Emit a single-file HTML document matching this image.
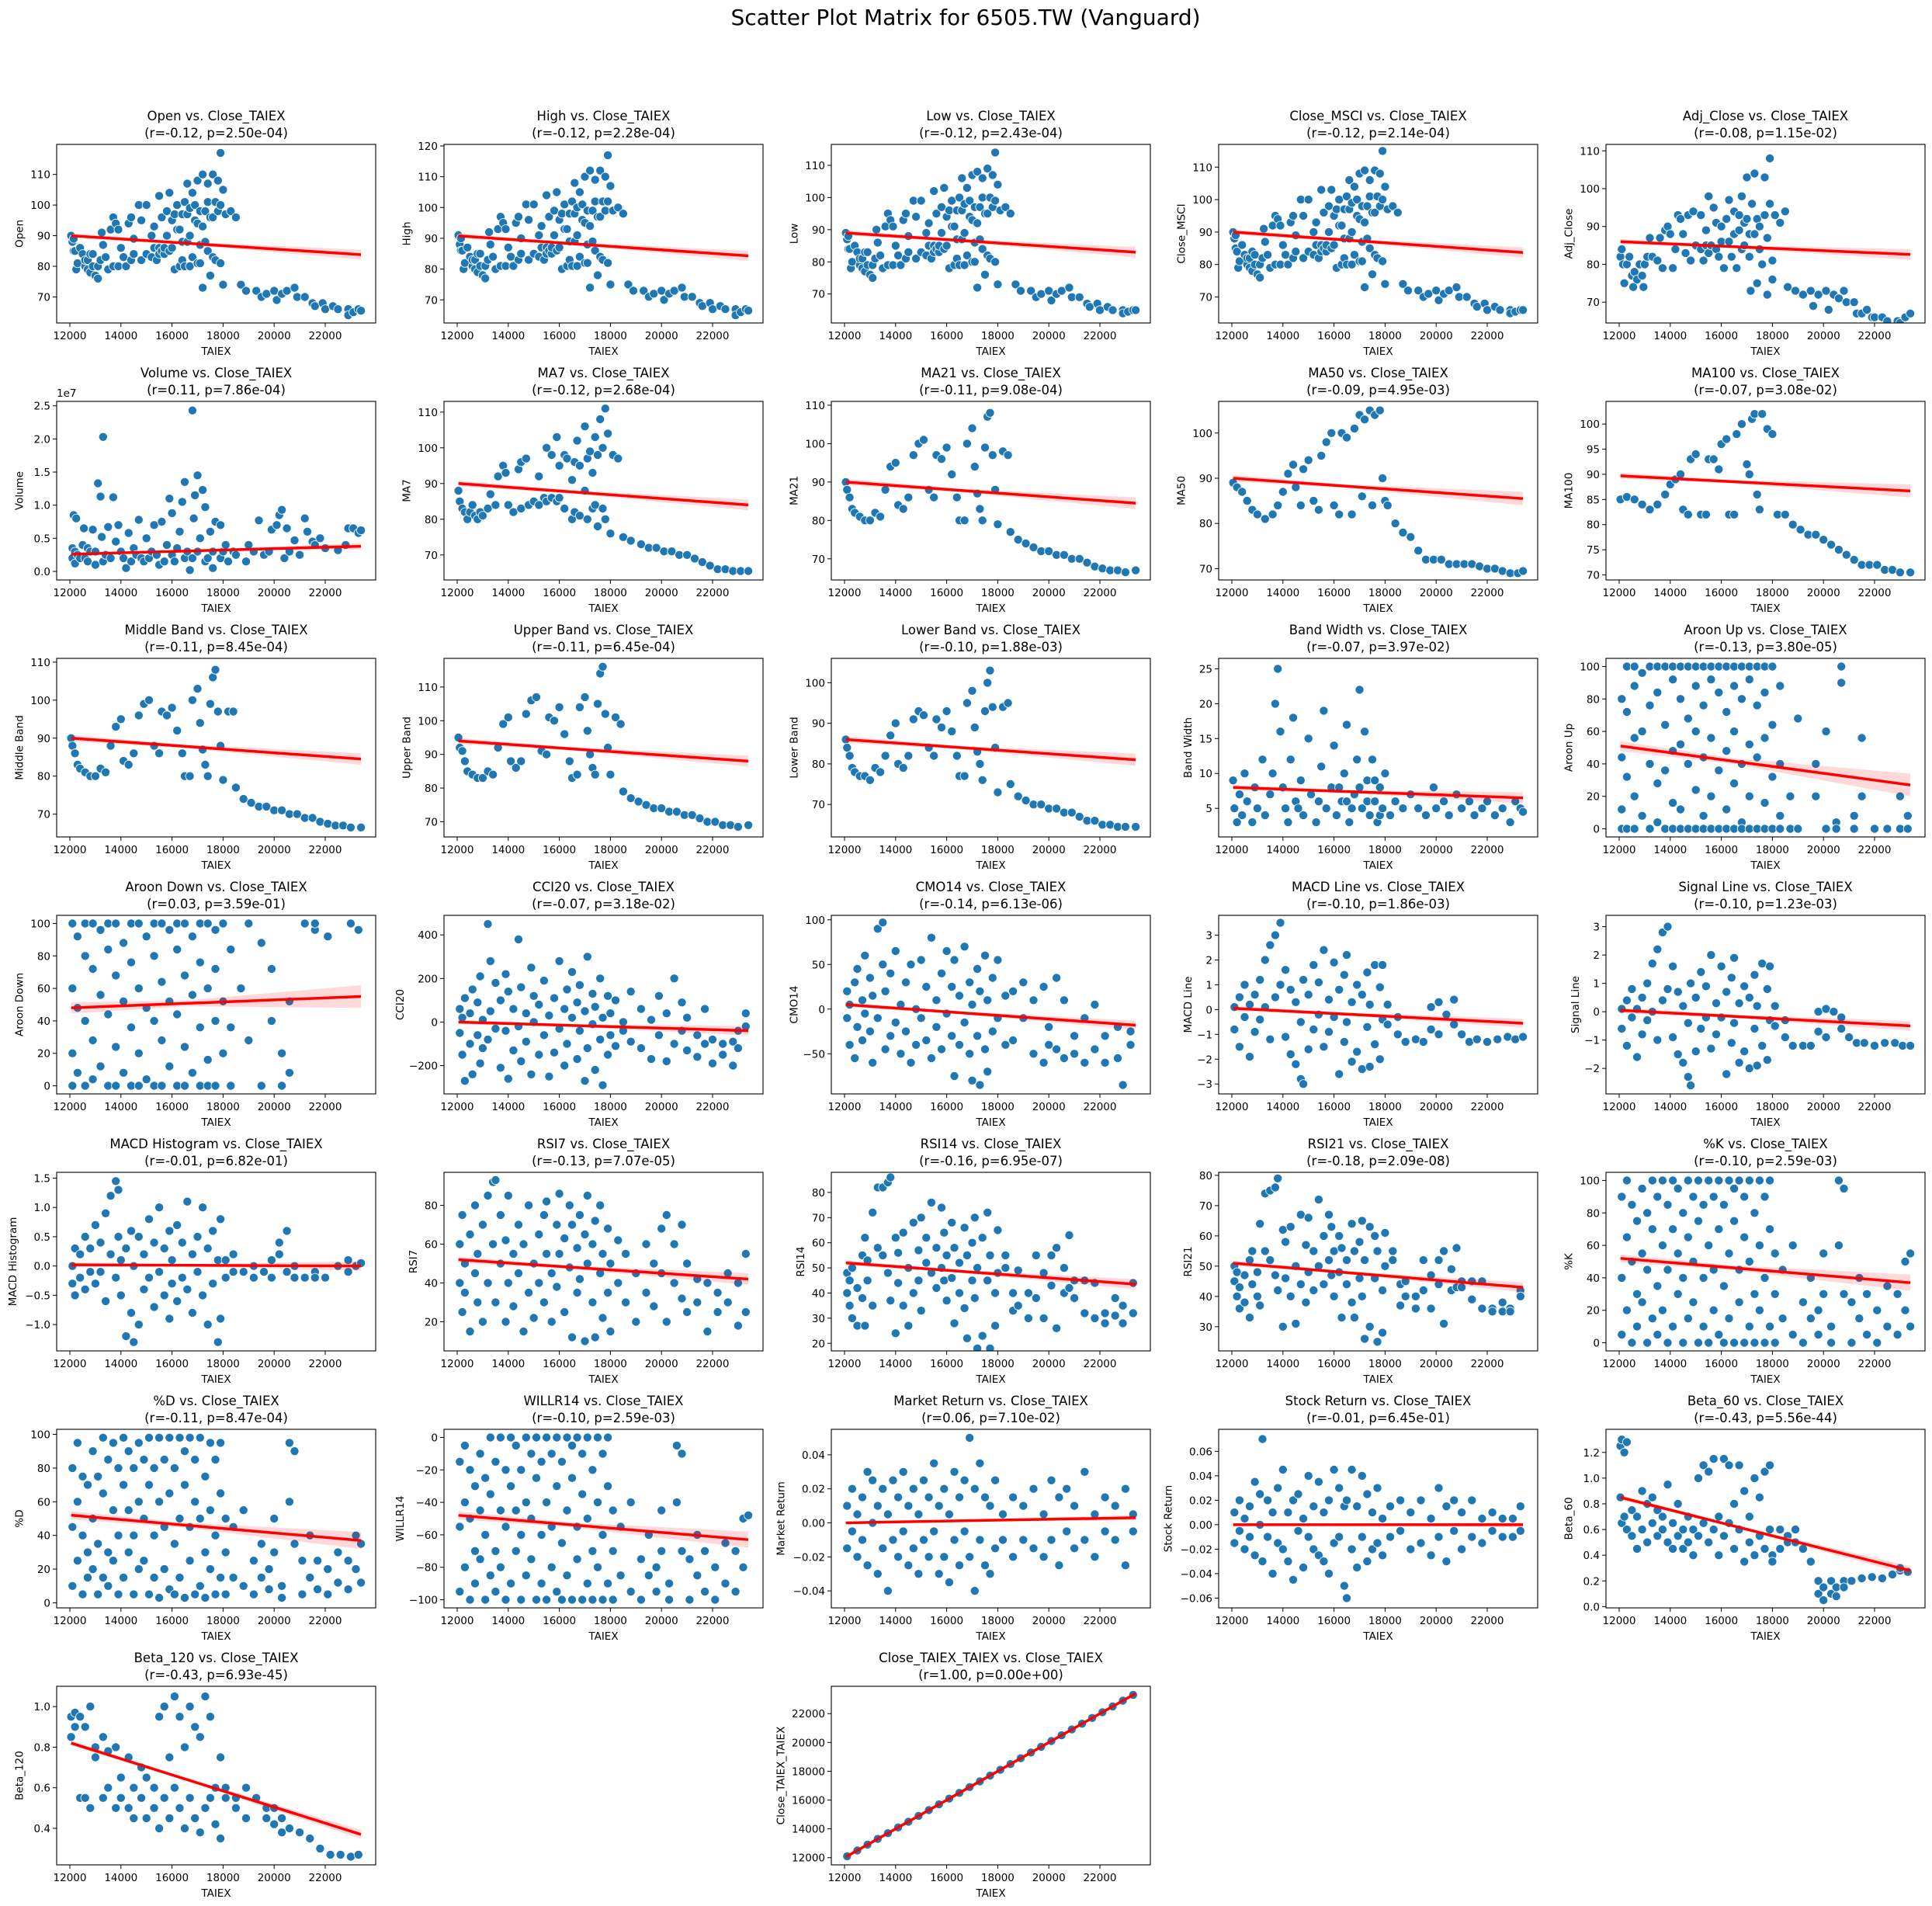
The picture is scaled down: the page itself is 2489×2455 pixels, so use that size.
<!DOCTYPE html>
<html><head><meta charset="utf-8">
<style>
html,body{margin:0;padding:0;background:#fff;}
svg{display:block;font-family:"DejaVu Sans","Liberation Sans",sans-serif;}
</style></head>
<body>
<svg id="fig" width="2489" height="2455" viewBox="0 0 2489 2455" xmlns="http://www.w3.org/2000/svg">
<rect width="2489" height="2455" fill="#fff"/>
<text x="1244" y="32" font-size="28" text-anchor="middle">Scatter Plot Matrix for 6505.TW (Vanguard)</text>
</svg>
<script>
// Data rows: [taiex_in_thousands, y1, y2, ...]
const d_open=[[12.05,90],[12.1,88],[12.15,85,89],[12.2,85],[12.25,79],[12.3,81],[12.4,86],[12.5,84],[12.6,80,82],[12.7,82,79],[12.8,78,84],[12.9,84,80],[13.0,77],[13.1,76,80],[13.2,82],[13.25,91],[13.3,87],[13.4,83],[13.5,79],[13.6,92],[13.7,96,80],[13.8,94],[13.9,92,80],[14.0,86],[14.1,83],[14.2,80],[14.3,94],[14.4,96,82],[14.5,89,84],[14.7,100],[14.8,95,82],[15.0,100,84],[15.2,90,83],[15.3,86,93],[15.4,82],[15.5,103,86,84],[15.6,96,85],[15.7,84,86],[15.8,90,98],[15.9,104,85],[16.0,95,86],[16.1,79,97],[16.2,100,92],[16.3,92,80],[16.4,88,97,82],[16.5,80,101],[16.6,107,97,88],[16.7,90,80,99],[16.8,83,104],[16.9,100,95],[17.0,108,94,81],[17.1,87,81,98],[17.2,110,73,93],[17.3,98,88],[17.4,107,85,101],[17.5,77,96],[17.6,110,96,83],[17.7,82,101],[17.8,108,98],[17.9,117,100,81],[18.0,74,105],[18.1,97],[18.3,98],[18.5,96],[18.7,74],[18.9,72],[19.3,72],[19.5,70],[19.7,71],[20.0,72],[20.1,69],[20.3,71],[20.5,72],[20.8,73],[20.9,70],[21.2,70],[21.5,68],[21.6,67],[21.9,68],[22.0,66],[22.3,67],[22.5,66],[22.9,66,64],[23.1,65],[23.3,66],[23.4,65.5]];
const d_high=[[12.05,91],[12.1,88],[12.15,86,90],[12.2,86],[12.25,80],[12.3,82],[12.4,87],[12.5,84],[12.6,81,83],[12.7,83,80],[12.8,79,85],[12.9,85,81],[13.0,78],[13.1,77,81],[13.2,83],[13.25,92],[13.3,88],[13.4,84],[13.5,80],[13.6,93],[13.7,97,81],[13.8,95],[13.9,93,81],[14.0,87],[14.1,84],[14.2,81],[14.3,95],[14.4,97,83],[14.5,90,85],[14.7,101],[14.8,96,83],[15.0,101,85],[15.2,91,84],[15.3,87,94],[15.4,83],[15.5,104,87,85],[15.6,97,86],[15.7,85,87],[15.8,91,99],[15.9,105,86],[16.0,96,87],[16.1,80,98],[16.2,101,93],[16.3,93,81],[16.4,89,98,83],[16.5,81,102],[16.6,108,98,89],[16.7,91,81,100],[16.8,84,105],[16.9,101,96],[17.0,110,95,82],[17.1,88,82,99],[17.2,112,74,94],[17.3,99,89],[17.4,109,86,102],[17.5,78,97],[17.6,112,97,84],[17.7,83,102],[17.8,110,99],[17.9,117,102,82],[18.0,75,107],[18.1,99],[18.3,100],[18.5,98],[18.7,75],[18.9,73],[19.3,73],[19.5,71],[19.7,72],[20.0,73],[20.1,70],[20.3,72],[20.5,73],[20.8,74],[20.9,71],[21.2,71],[21.5,69],[21.6,68],[21.9,69],[22.0,67],[22.3,68],[22.5,67],[22.9,67,65],[23.1,66],[23.3,67],[23.4,66.5]];
const d_low=[[12.05,89],[12.1,87],[12.15,84,88],[12.2,84],[12.25,78],[12.3,80],[12.4,85],[12.5,83],[12.6,79,81],[12.7,81,78],[12.8,77,83],[12.9,83,79],[13.0,76],[13.1,75,79],[13.2,81],[13.25,90],[13.3,86],[13.4,82],[13.5,78],[13.6,91],[13.7,95,79],[13.8,93],[13.9,91,79],[14.0,85],[14.1,82],[14.2,79],[14.3,93],[14.4,95,81],[14.5,88,83],[14.7,99],[14.8,94,81],[15.0,99,83],[15.2,89,82],[15.3,85,92],[15.4,81],[15.5,102,85,83],[15.6,95,84],[15.7,83,85],[15.8,89,97],[15.9,103,84],[16.0,94,85],[16.1,78,96],[16.2,99,91],[16.3,91,79],[16.4,87,96,81],[16.5,79,100],[16.6,106,96,87],[16.7,89,79,98],[16.8,82,103],[16.9,99,94],[17.0,107,93,80],[17.1,86,80,97],[17.2,108,72,92],[17.3,97,87],[17.4,106,84,100],[17.5,76,95],[17.6,109,95,82],[17.7,81,100],[17.8,107,97],[17.9,114,99,80],[18.0,73,104],[18.1,96],[18.3,97],[18.5,95],[18.7,73],[18.9,71],[19.3,71],[19.5,69],[19.7,70],[20.0,71],[20.1,68],[20.3,70],[20.5,71],[20.8,72],[20.9,69],[21.2,69],[21.5,67],[21.6,66],[21.9,67],[22.0,65],[22.3,66],[22.5,65],[22.9,65,64],[23.1,64.5],[23.3,65],[23.4,65]];
const d_msci=[[12.05,90],[12.1,88],[12.15,85,89],[12.2,84],[12.25,79],[12.3,81],[12.4,86],[12.5,83],[12.6,80,82],[12.7,82,79],[12.8,78,84],[12.9,83,80],[13.0,77],[13.1,76,80],[13.2,82],[13.25,91],[13.3,87],[13.4,83],[13.5,79],[13.6,92],[13.7,95,80],[13.8,94],[13.9,92,80],[14.0,86],[14.1,83],[14.2,80],[14.3,93],[14.4,95,82],[14.5,89,84],[14.7,100],[14.8,95,82],[15.0,100,84],[15.2,90,83],[15.3,86,93],[15.4,82],[15.5,103,86,84],[15.6,96,85],[15.7,84,86],[15.8,90,98],[15.9,103,85],[16.0,95,86],[16.1,79,97],[16.2,100,92],[16.3,92,80],[16.4,88,97,82],[16.5,80,101],[16.6,106,97,88],[16.7,90,80,99],[16.8,83,104],[16.9,100,95],[17.0,108,94,81],[17.1,87,81,98],[17.2,109,73,93],[17.3,98,88],[17.4,106,85,101],[17.5,77,96],[17.6,109,96,83],[17.7,82,101],[17.8,108,98],[17.9,115,100,81],[18.0,74,104],[18.1,97],[18.3,98],[18.5,96],[18.7,74],[18.9,72],[19.3,72],[19.5,70],[19.7,71],[20.0,72],[20.1,69],[20.3,71],[20.5,72],[20.8,73],[20.9,70],[21.2,70],[21.5,68],[21.6,67],[21.9,68],[22.0,66],[22.3,67],[22.5,66],[22.9,66,65],[23.1,65.5],[23.3,66],[23.4,66]];
const d_adj=[[12.05,82],[12.1,84],[12.15,80],[12.2,75],[12.3,80],[12.4,82],[12.5,77],[12.55,74],[12.6,78],[12.7,76],[12.8,80],[12.9,77],[12.95,74],[13.0,80],[13.1,82],[13.2,87],[13.3,82],[13.5,81],[13.6,87],[13.7,79],[13.8,89],[13.9,90],[14.0,88],[14.1,79],[14.2,84],[14.3,93],[14.4,92],[14.5,88],[14.6,83],[14.7,93],[14.8,81],[14.9,94],[15.0,85],[15.2,93,84],[15.3,81],[15.4,89,85],[15.5,98,83],[15.6,85],[15.7,95],[15.8,91,84],[15.9,82],[16.0,86,90],[16.1,79],[16.2,92],[16.3,97,86],[16.4,82],[16.5,94,88],[16.6,79],[16.7,89,93],[16.8,98,84],[16.9,85,91],[17.0,103,92],[17.1,82,88],[17.15,73],[17.2,96],[17.3,104,88],[17.4,75,92],[17.5,90,84],[17.6,80],[17.7,103,93],[17.8,72,87],[17.9,108,96],[18.0,76,81],[18.1,93],[18.3,91],[18.5,94],[18.6,74],[18.9,73],[19.2,72],[19.5,73],[19.6,69],[19.8,72],[20.1,73],[20.2,68],[20.4,72],[20.6,71],[20.8,73],[20.9,70],[21.2,70],[21.3,67],[21.5,67],[21.7,68],[21.9,66],[22.0,66],[22.3,66],[22.5,65],[22.9,65],[23.0,64.5],[23.2,66],[23.4,67]];
const d_vol=[[12.1,0.35,0.2],[12.15,0.85],[12.2,0.12,0.3],[12.25,0.8],[12.3,0.25],[12.4,0.2],[12.5,0.4],[12.55,0.65],[12.6,0.2],[12.7,0.15,0.35],[12.8,0.3],[12.9,0.63],[13.0,0.1,0.3],[13.1,1.33],[13.2,1.13],[13.25,0.52],[13.3,2.03,0.15],[13.4,0.25],[13.5,0.67],[13.6,0.2],[13.7,1.12],[13.8,0.45],[13.9,0.7],[14.0,0.3],[14.1,0.2],[14.2,0.05],[14.3,0.58],[14.4,0.15],[14.5,0.35],[14.6,0.25],[14.7,0.78],[14.8,0.2],[14.9,0.15],[15.0,0.5],[15.1,0.2],[15.2,0.3],[15.3,0.7],[15.4,0.25],[15.5,0.1],[15.6,0.75],[15.7,0.15],[15.8,0.4],[15.9,1.1],[16.0,0.88,0.25],[16.1,0.15],[16.2,0.35],[16.3,0.6],[16.4,1.05],[16.5,1.35,0.2],[16.6,0.3],[16.7,0.02],[16.8,2.43,0.2],[16.85,0.8],[16.9,1.15],[17.0,1.45,0.3],[17.1,0.5],[17.2,1.23],[17.3,0.97,0.15],[17.4,0.2],[17.5,0.6],[17.6,0.05,0.3],[17.7,0.75],[17.9,0.7,0.2],[18.0,0.3],[18.1,0.4],[18.2,0.15],[18.4,0.3],[18.5,0.25],[18.9,0.15],[19.0,0.4],[19.2,0.3],[19.4,0.77],[19.6,0.25],[19.8,0.3],[19.9,0.63],[20.1,0.7],[20.2,0.85],[20.3,0.93],[20.4,0.2],[20.5,0.65],[20.6,0.3],[20.8,0.47],[21.0,0.25],[21.2,0.8],[21.3,0.6],[21.5,0.45],[21.6,0.4],[21.8,0.5],[22.0,0.35],[22.5,0.32],[22.8,0.4],[22.9,0.65],[23.1,0.65],[23.3,0.58],[23.4,0.62]];
const d_ma7=[[12.05,88],[12.1,85],[12.2,83],[12.3,82],[12.4,80],[12.5,82],[12.6,84],[12.7,81],[12.8,80],[12.9,82],[13.0,81],[13.2,83],[13.3,87],[13.5,84],[13.6,92],[13.8,95],[13.9,93],[14.0,84],[14.2,82],[14.4,94],[14.5,96,83],[14.7,97],[14.8,84],[15.0,85],[15.2,92,84],[15.4,86],[15.5,100,85],[15.7,98,86],[15.9,103,85],[16.0,95,86],[16.2,83,98],[16.3,97],[16.5,91,80],[16.6,82,96],[16.7,102],[16.8,95,81],[17.0,106,88],[17.1,80,97],[17.2,99],[17.3,93,83],[17.4,84,103],[17.5,78,98],[17.6,108],[17.7,100,83],[17.8,111,80],[17.9,104],[18.0,76],[18.1,98],[18.3,97],[18.5,75],[18.8,74],[19.2,73],[19.5,72],[19.8,72],[20.1,71],[20.4,71],[20.7,70],[21.0,70],[21.3,69],[21.6,68],[21.9,67],[22.2,66],[22.5,66],[22.8,65.5],[23.1,65.5],[23.4,65.5]];
const d_ma21=[[12.05,90],[12.1,88],[12.2,86],[12.3,83],[12.4,82],[12.6,81],[12.8,80],[13.0,80],[13.2,82],[13.4,81],[13.6,88],[13.8,94],[14.0,95],[14.1,84],[14.3,83],[14.5,86],[14.7,97],[14.9,100],[15.1,101],[15.3,88],[15.5,86],[15.6,97],[15.8,96],[16.0,99],[16.2,92],[16.4,86],[16.5,80],[16.7,80],[16.8,100],[17.0,104],[17.1,94],[17.2,87],[17.3,83],[17.4,80],[17.5,99],[17.6,107],[17.7,108],[17.8,97],[17.9,88],[18.0,79],[18.2,98],[18.4,97],[18.5,77],[18.8,75],[19.1,74],[19.4,73],[19.7,72],[20.0,72],[20.3,71],[20.6,71],[20.9,70],[21.2,70],[21.5,69],[21.8,68],[22.1,67.5],[22.4,67],[22.7,67],[23.0,66.5],[23.4,67]];
const d_ma50=[[12.05,89],[12.2,88],[12.4,87],[12.6,85],[12.8,83],[13.0,82],[13.3,81],[13.6,82],[13.8,84],[14.0,87],[14.2,91],[14.4,93],[14.5,88],[14.7,84],[14.8,92],[15.0,94],[15.2,85],[15.4,83],[15.5,95],[15.7,98],[15.9,100],[16.0,84],[16.2,82],[16.3,100],[16.5,99],[16.7,82],[16.8,101],[17.0,104],[17.1,86],[17.2,103],[17.4,105],[17.5,84],[17.6,104],[17.8,105],[17.9,90],[18.0,85],[18.1,84],[18.4,80],[18.7,78],[19.0,77],[19.3,74],[19.6,72],[19.9,72],[20.2,72],[20.5,71],[20.8,71],[21.1,71],[21.4,71],[21.7,70.5],[22.0,70],[22.3,70],[22.6,69.5],[22.9,69],[23.2,69],[23.4,69.5]];
const d_ma100=[[12.05,85],[12.3,85.5],[12.6,85],[12.9,84],[13.2,83],[13.5,84],[13.8,86],[14.0,88],[14.2,89],[14.4,90],[14.5,83],[14.7,82],[14.8,93],[15.0,94],[15.2,82],[15.4,82],[15.5,93],[15.7,93],[15.9,91],[16.0,96],[16.2,97],[16.3,82],[16.5,82],[16.6,98],[16.8,100],[17.0,92],[17.1,90],[17.2,101],[17.3,102],[17.4,86],[17.5,83],[17.6,102],[17.8,99],[18.0,98],[18.2,82],[18.5,82],[18.8,80],[19.1,79],[19.4,78],[19.7,78],[20.0,77],[20.3,76],[20.6,75],[20.9,74],[21.2,73],[21.5,72],[21.8,72],[22.1,72],[22.4,71],[22.7,71],[23.0,70.5],[23.4,70.5]];
const d_mid=[[12.05,90],[12.1,88],[12.2,86],[12.3,83],[12.4,82],[12.6,81],[12.8,80],[13.0,80],[13.2,82],[13.4,81],[13.6,88],[13.8,93],[14.0,95],[14.1,84],[14.3,83],[14.5,86],[14.7,96],[14.9,99],[15.1,100],[15.3,88],[15.5,86],[15.6,97],[15.8,96],[16.0,98],[16.2,92],[16.4,86],[16.5,80],[16.7,80],[16.8,100],[17.0,103],[17.1,94],[17.2,87],[17.3,83],[17.4,80],[17.5,99],[17.6,106],[17.7,108],[17.8,97],[17.9,88],[18.0,79],[18.2,97],[18.4,97],[18.5,77],[18.8,74],[19.1,73],[19.4,72],[19.7,72],[20.0,71],[20.3,71],[20.6,70],[20.9,70],[21.2,69],[21.5,69],[21.8,68],[22.1,67.5],[22.4,67],[22.7,67],[23.0,66.5],[23.4,66.5]];
const d_up=[[12.05,95],[12.1,92],[12.2,91],[12.3,88],[12.4,85],[12.6,84],[12.8,83],[13.0,83],[13.2,85],[13.4,84],[13.6,92],[13.8,99],[14.0,101],[14.1,88],[14.3,86],[14.5,88],[14.7,102],[14.9,106],[15.1,107],[15.3,91],[15.5,90],[15.6,101],[15.8,100],[16.0,104],[16.2,96],[16.4,88],[16.5,83],[16.7,84],[16.8,104],[17.0,107],[17.1,97],[17.2,90],[17.3,86],[17.4,84],[17.5,105],[17.6,114],[17.7,116],[17.8,102],[17.9,92],[18.0,84],[18.2,101],[18.4,99],[18.5,79],[18.8,77],[19.1,76],[19.4,75],[19.7,74],[20.0,74],[20.3,73],[20.6,73],[20.9,72],[21.2,72],[21.5,71],[21.8,70],[22.1,70],[22.4,69],[22.7,69],[23.0,68.5],[23.4,69]];
const d_lowb=[[12.05,86],[12.1,84],[12.2,82],[12.3,79],[12.4,78],[12.6,77],[12.8,77],[13.0,76],[13.2,79],[13.4,78],[13.6,82],[13.8,87],[14.0,90],[14.1,80],[14.3,79],[14.5,82],[14.7,91],[14.9,93],[15.1,92],[15.3,84],[15.5,82],[15.6,91],[15.8,89],[16.0,93],[16.2,88],[16.4,82],[16.5,77],[16.7,77],[16.8,95],[17.0,98],[17.1,89],[17.2,83],[17.3,80],[17.4,76],[17.5,93],[17.6,100],[17.7,103],[17.8,94],[17.9,84],[18.0,73],[18.2,94],[18.4,95],[18.5,75],[18.8,72],[19.1,71],[19.4,70],[19.7,70],[20.0,69],[20.3,69],[20.6,68],[20.9,68],[21.2,67],[21.5,66],[21.8,66],[22.1,65],[22.4,65],[22.7,64.5],[23.0,64.5],[23.4,64.5]];
const d_bw=[[12.05,9],[12.1,5],[12.2,3],[12.3,7],[12.4,4],[12.5,10],[12.6,6],[12.8,3],[12.9,8],[13.0,5],[13.2,12],[13.3,4],[13.5,7],[13.6,10],[13.7,20],[13.8,25],[13.9,16],[14.0,8],[14.1,5],[14.2,3],[14.3,12],[14.4,18],[14.5,6],[14.6,5],[14.7,9],[14.8,4],[15.0,15],[15.1,7],[15.3,3],[15.4,6],[15.5,11],[15.6,19],[15.7,5],[15.9,8],[16.0,14],[16.1,4],[16.2,8],[16.3,6],[16.4,10],[16.5,17,6],[16.6,3],[16.7,5],[16.8,7],[16.9,12],[17.0,22,8],[17.1,5],[17.2,16],[17.3,9,6],[17.4,4],[17.5,12],[17.6,6,9],[17.7,3],[17.8,8,4],[17.9,5],[18.0,10],[18.2,4],[18.4,6],[18.7,5],[19.0,7],[19.3,5],[19.6,4],[19.9,8],[20.0,5],[20.3,6],[20.5,4],[20.8,7],[21.0,5],[21.3,6],[21.5,4],[21.8,5],[22.0,6],[22.3,4],[22.6,5],[22.9,3],[23.1,6],[23.3,5],[23.4,4.5]];
const d_aup=[[12.1,0,12,44,80],[12.3,100,72,32,0],[12.6,100,88,56,20,0],[12.9,96,60,8],[13.2,100,76,40,0],[13.5,100,84,28,4],[13.8,100,64,36,0],[14.1,100,92,48,16,0],[14.4,100,80,52,12,0],[14.7,100,68,40,0],[15.0,100,88,60,24,0],[15.3,100,76,44,8,0],[15.6,100,92,56,20,0],[15.9,100,84,36,0],[16.2,100,72,48,12,0],[16.5,100,88,60,28,0],[16.8,100,80,40,4,0],[17.1,100,92,52,20,0],[17.4,100,76,44,0],[17.7,100,84,56,16,0],[18.0,100,64,32,0],[18.3,88,40,8,0],[18.7,20,0],[19.0,68,0],[19.7,40,20],[20.1,60,0],[20.5,4,0],[20.7,90,100],[21.2,0,8],[21.5,56,20],[22.0,0],[22.5,0],[23.0,20,0],[23.3,8,0]];
const d_adn=[[12.1,100,60,20,0],[12.3,92,48,8],[12.6,100,80,40,0],[12.9,100,72,28,4],[13.2,96,56,12],[13.5,100,84,44,0],[13.8,100,68,24,0],[14.1,88,52,8],[14.4,100,76,36,0],[14.7,100,60,20,0],[15.0,92,48,4],[15.3,100,80,40,0],[15.6,100,64,28,0],[15.9,96,52,12],[16.2,100,84,44,0],[16.5,100,68,24,0],[16.8,92,56,8],[17.1,100,76,36,0],[17.4,100,60,16,0],[17.7,96,72,40,0],[18.0,100,52,20],[18.3,84,36,0],[18.7,60],[19.0,100,28],[19.5,88,0],[19.9,72,40],[20.3,20,0],[20.6,52,8],[21.2,100],[21.6,96,100],[22.1,92],[23.0,100],[23.3,96]];
const d_cci=[[12.1,-50,60],[12.2,-150,20],[12.3,-270,110],[12.5,-100,40],[12.6,-240,150],[12.8,-60,90],[12.9,-190,210],[13.0,10,-120],[13.2,450,-80],[13.3,280,50],[13.5,-30,180],[13.7,100,-210],[13.9,220,-40],[14.0,-260,140],[14.2,60,-130],[14.4,380,-20],[14.5,160,-180],[14.7,40,-90],[14.9,250,-240],[15.0,0,120],[15.2,-150,80],[15.4,190,-60],[15.6,-250,30],[15.8,110,-140],[16.0,280,-30],[16.2,-200,60],[16.3,150,-100],[16.5,20,230],[16.7,-170,90],[16.8,-40,170],[17.0,-270,50],[17.1,300,-120],[17.3,-10,130],[17.4,-220,70],[17.6,200,-80],[17.7,-290,20],[17.9,120,-150],[18.0,-60,40],[18.2,-110,100],[18.5,0,-40],[18.8,140,-90],[19.2,-120,60],[19.6,10,-170],[19.9,120,-60],[20.2,-180,40],[20.5,200,-100],[20.8,-40,90],[21.0,-130,20],[21.4,-60,-160],[21.7,-100,60],[22.0,-190,-80],[22.4,-100,-150],[22.8,-90,-200],[23.0,-120,-40],[23.3,-20,40]];
const d_cmo=[[12.1,-10,20],[12.2,-40,5],[12.4,-55,30],[12.5,45,-20],[12.7,-35,10],[12.8,60,-5],[13.0,-25,35],[13.1,-60,15],[13.3,90,-10],[13.5,97,50],[13.6,-45,20],[13.8,40,-30],[14.0,-15,65],[14.2,-50,5],[14.4,30,-25],[14.6,-60,50],[14.8,0,-40],[15.0,55,-10],[15.2,-35,25],[15.4,80,-55],[15.6,10,-20],[15.8,-45,40],[16.0,65,-5],[16.2,-30,25],[16.3,-75,55],[16.5,15,-40],[16.7,70,-15],[16.9,-50,30],[17.0,-80,5],[17.2,45,-30],[17.3,-85,20],[17.5,60,-45],[17.6,-70,10],[17.8,35,-25],[18.0,-10,55],[18.3,-40,15],[18.6,20,-35],[19.0,-10,30],[19.4,-50,10],[19.8,-60,25],[20.0,-20,-40],[20.3,35,-45],[20.6,10,-55],[21.0,-30,-50],[21.4,-10,-60],[21.8,-45,5],[22.2,-30,-60],[22.7,-55,-20],[22.9,-85],[23.2,-40,-25]];
const d_macdl=[[12.1,0.1,-0.8],[12.3,-1.5,0.5],[12.5,-0.3,1.0],[12.7,-1.9,0.2],[12.9,0.6,-0.9],[13.1,1.2,-0.4],[13.3,2.0,0.1],[13.5,2.6,-1.2],[13.7,3.0,0.5],[13.9,3.5,1.0],[14.1,1.6,-1.1],[14.3,0.8,-1.8],[14.5,-2.2,0.3],[14.7,-2.8,-0.5],[14.8,-3.0,1.2],[15.0,-1.6,0.6],[15.2,1.8,-0.8],[15.4,1.1,-0.2],[15.6,2.4,-1.5],[15.8,0.4,-0.9],[16.0,1.9,-0.3],[16.2,-2.6,0.8],[16.4,1.4,-1.3],[16.5,2.2,-0.5],[16.7,-2.1,0.3],[16.9,1.0,-1.7],[17.1,-2.4,0.6],[17.3,1.5,-0.7],[17.4,-2.3,0.2],[17.6,1.8,-1.4],[17.8,0.9,-2.0],[17.9,1.8,-0.4],[18.1,-0.6,0.2],[18.5,-1.0,-0.3],[18.8,-1.3],[19.2,-1.2],[19.5,-1.3],[19.8,0.1,-0.8],[20.1,0.3,-1.0],[20.4,-0.2],[20.7,0.4,-0.6],[21.0,-1.0],[21.3,-1.3],[21.6,-1.2],[22.0,-1.3],[22.4,-1.2],[22.8,-1.1],[23.1,-1.2],[23.4,-1.1]];
const d_sig=[[12.1,0.1,-0.6],[12.3,-1.2,0.4],[12.5,-0.2,0.8],[12.7,-1.6,0.1],[12.9,0.5,-0.8],[13.1,1.0,-0.3],[13.3,1.7,0.0],[13.5,2.2,-1.0],[13.7,2.8,0.4],[13.9,3.0,0.8],[14.1,1.6,-0.9],[14.3,0.7,-1.5],[14.5,-1.8,0.2],[14.7,-2.3,-0.4],[14.8,-2.6,1.0],[15.0,-1.4,0.5],[15.2,1.4,-0.6],[15.4,0.9,-0.2],[15.6,2.0,-1.3],[15.8,0.3,-0.8],[16.0,1.6,-0.2],[16.2,-2.2,0.7],[16.4,1.2,-1.1],[16.5,1.9,-0.4],[16.7,-1.8,0.3],[16.9,0.9,-1.4],[17.1,-2.0,0.5],[17.3,1.3,-0.6],[17.4,-1.9,0.2],[17.6,1.7,-1.2],[17.8,0.8,-1.7],[17.9,1.6,-0.3],[18.1,-0.5,0.2],[18.5,-0.9,-0.3],[18.8,-1.2],[19.2,-1.2],[19.5,-1.2],[19.8,0.0,-0.7],[20.1,0.1,-0.9],[20.4,0.0],[20.7,-0.2,-0.6],[21.0,-0.9],[21.3,-1.1],[21.6,-1.1],[22.0,-1.2],[22.4,-1.1],[22.8,-1.1],[23.1,-1.2],[23.4,-1.2]];
const d_hist=[[12.1,0.0,-0.3],[12.2,-0.5,0.3],[12.4,0.2,-0.2],[12.6,0.5,-0.4],[12.8,-0.1,0.3],[13.0,0.7,-0.3],[13.2,0.4,-0.1],[13.4,0.9,-0.6],[13.6,1.2,0.2],[13.8,1.45,-0.2],[13.9,1.3,0.5],[14.0,-0.5,0.1],[14.2,-1.2,0.3],[14.4,0.6,-0.8],[14.5,-1.3,0.0],[14.7,-1.0,0.5],[14.9,0.2,-0.4],[15.1,0.8,-0.2],[15.3,-0.7,0.4],[15.5,1.0,-0.1],[15.7,-0.5,0.3],[15.9,0.6,-0.9],[16.0,0.1,-0.3],[16.2,0.7,-0.6],[16.4,-0.2,0.4],[16.6,1.1,-0.4],[16.8,-0.8,0.2],[17.0,0.5,-0.1],[17.2,1.0,-0.5],[17.4,-1.0,0.3],[17.6,0.6,-0.3],[17.8,-1.3,0.1],[17.9,0.8,-0.9],[18.1,0.1,-0.2],[18.4,0.2,-0.1],[18.8,-0.1],[19.2,0.0,-0.2],[19.6,-0.1],[19.9,0.1,-0.2],[20.2,0.4,0.2],[20.5,0.6,-0.1],[20.8,0.0,-0.2],[21.2,-0.2],[21.6,-0.1,-0.2],[22.0,-0.2],[22.5,0.0],[22.9,-0.1,0.1],[23.2,0.0],[23.4,0.05]];
const d_rsi7=[[12.1,40,60],[12.2,25,75],[12.3,50,35],[12.5,15,65],[12.7,45,80],[12.8,30,55],[13.0,70,20],[13.2,40,85],[13.4,92,60],[13.5,93,30],[13.7,50,75],[13.9,20,62],[14.0,40,85],[14.2,28,55],[14.4,70,45],[14.6,15,60],[14.8,80,35],[15.0,50,22],[15.2,65,40],[15.4,30,75],[15.5,55,82],[15.7,45,20],[15.9,70,38],[16.0,86,55],[16.2,25,63],[16.4,48,80],[16.5,12,70],[16.7,58,35],[16.8,75,42],[17.0,10,65],[17.1,85,50],[17.3,30,60],[17.4,12,72],[17.6,45,80],[17.7,22,55],[17.9,68,35],[18.0,50,15],[18.3,40,62],[18.6,30,55],[19.0,45,20],[19.4,60,35],[19.7,28,50],[20.0,45,68],[20.2,20,75],[20.5,60,40],[20.8,70,32],[21.0,50,25],[21.4,42,30],[21.8,40,15],[22.2,35,25],[22.6,30,45],[23.0,18,40],[23.3,55,25]];
const d_rsi14=[[12.1,40,48],[12.2,35,45],[12.3,50,30],[12.5,27,42],[12.7,55,38],[12.8,62,27],[12.9,45,53],[13.1,72,35],[13.3,82,58],[13.5,82,55],[13.7,84,48],[13.8,86,37],[14.0,24,62],[14.1,44,56],[14.3,64,35],[14.5,27,50],[14.7,68,40],[14.9,57,45],[15.0,70,33],[15.2,52,62],[15.4,76,48],[15.6,42,58],[15.8,74,50],[15.9,45,64],[16.0,37,55],[16.2,68,46],[16.3,28,58],[16.5,52,40],[16.7,66,34],[16.8,22,55],[17.0,60,45],[17.1,70,38],[17.2,18,50],[17.4,23,62],[17.6,45,72],[17.7,18,55],[17.9,27,40],[18.0,65,48],[18.3,50,55],[18.6,40,33],[18.8,49,35],[19.2,40,30],[19.5,55,38],[19.8,48,30],[20.1,55,43],[20.3,58,26],[20.6,50,40],[20.8,63,42],[21.0,45,38],[21.4,32,45],[21.8,44,30],[22.2,32,28],[22.6,31,38],[22.9,28,35],[23.3,44,32]];
const d_rsi21=[[12.1,45,50],[12.2,40,48],[12.3,43,36],[12.5,38,47],[12.7,52,33],[12.8,55,44],[13.0,48,40],[13.1,64,37],[13.3,74,55],[13.5,75,52],[13.7,76,47],[13.8,79,42],[14.0,30,62],[14.1,46,58],[14.3,63,40],[14.5,31,50],[14.7,67,44],[14.9,57,38],[15.0,66,48],[15.2,55,42],[15.4,72,50],[15.6,44,60],[15.8,67,52],[15.9,47,63],[16.0,40,55],[16.2,60,48],[16.3,33,56],[16.5,52,44],[16.7,64,38],[16.8,33,55],[17.0,58,46],[17.1,65,40],[17.2,26,52],[17.4,30,63],[17.6,46,60],[17.7,25,55],[17.9,28,42],[18.0,61,50],[18.3,52,55],[18.6,44,37],[18.8,45,40],[19.2,40,36],[19.5,52,42],[19.8,47,36],[20.1,52,44],[20.3,55,31],[20.6,49,42],[20.8,56,43],[21.0,45,43],[21.4,39,45],[21.8,45,36],[22.2,36,35],[22.6,35,38],[22.9,36,35],[23.3,42,40]];
const d_k=[[12.1,5,40,90],[12.3,20,65,100],[12.5,0,50,85],[12.7,30,75,10],[12.9,95,55,25],[13.1,0,45,80],[13.3,15,70,100],[13.5,35,90,5],[13.7,60,20,100],[13.9,0,45,85],[14.1,10,70,100],[14.3,30,55,95],[14.5,0,80,40],[14.7,15,100,65],[14.9,25,50,90],[15.1,0,75,100],[15.3,40,10,85],[15.5,0,60,100],[15.7,20,90,45],[15.9,5,70,100],[16.1,35,0,85],[16.3,55,15,100],[16.5,0,75,95],[16.7,25,45,100],[16.9,0,65,90],[17.1,10,50,100],[17.3,0,80,30],[17.5,20,100,60],[17.7,0,40,90],[17.9,10,70,100],[18.1,30,0,55],[18.4,15,45],[18.8,5,60],[19.2,25,0],[19.5,40,15],[19.8,20,5],[20.0,30,55],[20.3,10,0],[20.6,100,60],[20.8,95,30],[21.1,0,25],[21.4,15,40],[21.7,5,30],[22.1,20,0],[22.5,10,35],[22.9,30,5],[23.2,50,20],[23.4,55,10]];
const d_d=[[12.1,10,45,80],[12.3,25,60,95],[12.5,5,40,75],[12.7,30,70,15],[12.9,90,50,20],[13.1,5,35,75],[13.3,15,65,98],[13.5,30,85,10],[13.7,55,25,95],[13.9,5,40,80],[14.1,15,70,98],[14.3,30,55,90],[14.5,5,80,40],[14.7,20,95,60],[14.9,25,50,85],[15.1,5,70,98],[15.3,40,15,80],[15.5,3,60,98],[15.7,20,85,45],[15.9,8,65,98],[16.1,35,5,80],[16.3,50,15,98],[16.5,3,70,90],[16.7,25,45,98],[16.9,5,60,85],[17.1,10,50,98],[17.3,3,75,30],[17.5,20,95,55],[17.7,5,40,85],[17.9,15,65,95],[18.1,30,5,50],[18.4,15,45],[18.8,10,55],[19.2,25,5],[19.5,35,15],[19.8,20,8],[20.0,30,50],[20.3,10,3],[20.6,95,60],[20.8,90,35],[21.1,5,25],[21.4,15,40],[21.7,8,25],[22.1,20,5],[22.5,12,30],[22.9,25,8],[23.2,40,20],[23.4,35,12]];
const d_willr=[[12.1,-95,-55,-15],[12.3,-80,-40,-5],[12.5,-100,-50,-20],[12.7,-70,-30,-90],[12.9,-10,-45,-75],[13.1,-100,-60,-25],[13.3,-85,-35,0],[13.5,-70,-15,-95],[13.7,-45,-80,0],[13.9,-100,-55,-20],[14.1,-90,-30,0],[14.3,-70,-45,-5],[14.5,-100,-20,-60],[14.7,-85,0,-40],[14.9,-75,-50,-10],[15.1,-100,-25,0],[15.3,-60,-90,-15],[15.5,-100,-40,0],[15.7,-80,-10,-55],[15.9,-95,-30,0],[16.1,-65,-100,-15],[16.3,-45,-85,0],[16.5,-100,-25,-5],[16.7,-75,-55,0],[16.9,-100,-35,-10],[17.1,-90,-50,0],[17.3,-100,-20,-70],[17.5,-80,0,-40],[17.7,-100,-60,-10],[17.9,-90,-30,0],[18.1,-70,-100,-45],[18.4,-85,-55],[18.8,-95,-40],[19.2,-75,-100],[19.5,-60,-85],[19.8,-80,-95],[20.0,-70,-45],[20.3,-90,-100],[20.6,-5,-40],[20.8,-10,-70],[21.1,-100,-75],[21.4,-85,-60],[21.7,-95,-70],[22.1,-80,-100],[22.5,-90,-65],[22.9,-70,-95],[23.2,-50,-80],[23.4,-48]];
const d_mret=[[12.1,0.01,-0.015],[12.3,0.02,-0.005],[12.5,-0.02,0.005],[12.7,0.015,-0.01],[12.9,0.03,-0.025],[13.1,0.0,0.025],[13.3,-0.03,0.01],[13.5,0.02,-0.015],[13.7,-0.04,0.005],[13.9,0.025,-0.01],[14.1,-0.02,0.015],[14.3,0.03,-0.005],[14.5,-0.025,0.01],[14.7,0.02,-0.015],[14.9,0.005,-0.03],[15.1,0.025,-0.01],[15.3,-0.02,0.015],[15.5,0.035,-0.005],[15.7,-0.03,0.01],[15.9,0.02,-0.02],[16.1,-0.035,0.005],[16.3,0.03,-0.01],[16.5,-0.025,0.015],[16.7,0.025,-0.005],[16.9,0.05,-0.02],[17.1,0.02,-0.04],[17.3,-0.01,0.035],[17.5,0.015,-0.025],[17.7,-0.03,0.01],[17.9,0.025,-0.015],[18.2,0.005,-0.01],[18.6,0.015,-0.02],[19.0,-0.01,0.01],[19.4,0.02,-0.015],[19.8,-0.02,0.005],[20.1,0.025,-0.01],[20.4,-0.025,0.015],[20.7,0.02,-0.005],[21.0,-0.015,0.01],[21.4,0.03,-0.01],[21.8,0.005,-0.02],[22.2,0.015,-0.005],[22.6,-0.01,0.01],[23.0,-0.025,0.02],[23.3,0.005,-0.005]];
const d_sret=[[12.1,0.01,-0.015],[12.3,0.02,-0.005],[12.5,-0.02,0.005],[12.7,0.015,-0.01],[12.9,0.035,-0.025],[13.1,0.0,0.025],[13.2,0.07,-0.03],[13.4,0.02,-0.01],[13.6,-0.04,0.01],[13.8,0.03,-0.015],[14.0,-0.02,0.045],[14.2,0.01,-0.03],[14.4,-0.045,0.02],[14.6,0.025,-0.005],[14.8,0.005,-0.035],[15.0,0.04,-0.01],[15.2,-0.02,0.015],[15.4,0.035,-0.025],[15.6,-0.03,0.01],[15.8,0.02,-0.04],[16.0,-0.015,0.045],[16.2,0.03,-0.01],[16.4,-0.05,0.015],[16.5,-0.06,0.02],[16.7,0.045,-0.02],[16.9,0.015,-0.035],[17.1,-0.01,0.04],[17.3,0.025,-0.03],[17.5,-0.02,0.01],[17.7,0.03,-0.015],[17.9,0.005,-0.025],[18.2,0.015,-0.01],[18.6,-0.005,0.02],[19.0,-0.02,0.01],[19.4,0.02,-0.015],[19.8,-0.025,0.005],[20.1,0.03,-0.01],[20.4,-0.03,0.015],[20.7,0.02,-0.005],[21.0,-0.02,0.01],[21.4,0.02,-0.01],[21.8,0.005,-0.015],[22.2,0.01,-0.005],[22.6,-0.01,0.005],[23.0,-0.01,0.005],[23.3,0.015,-0.005]];
const d_b60=[[12.05,1.25,0.85],[12.1,1.3,0.65],[12.2,1.2,0.7],[12.3,1.28,0.6],[12.5,0.75,0.55],[12.7,0.7,0.45],[12.9,0.9,0.6],[13.1,0.8,0.5],[13.3,0.65,0.85],[13.5,0.75,0.55],[13.7,0.6,0.7],[13.9,0.5,0.95],[14.1,0.65,0.45],[14.3,0.55,0.8],[14.5,0.6,0.45],[14.7,0.5,0.7],[14.9,0.4,0.6],[15.1,0.55,1.0],[15.3,0.65,1.1],[15.5,1.05,0.5],[15.7,1.15,0.6],[15.9,0.7,0.4],[16.1,1.15,0.55],[16.3,1.1,0.65],[16.5,0.45,0.8],[16.7,1.1,0.6],[16.9,0.9,0.35],[17.1,0.7,0.5],[17.3,1.0,0.4],[17.5,0.85,0.55],[17.7,1.05,0.45],[17.9,1.1,0.6],[18.0,0.4,0.35],[18.3,0.6,0.45],[18.6,0.55,0.5],[18.9,0.5,0.6],[19.2,0.45],[19.5,0.35],[19.8,0.2,0.1],[20.0,0.05,0.15],[20.3,0.1,0.2],[20.5,0.15,0.08],[20.8,0.2,0.15],[21.1,0.2],[21.5,0.22],[21.9,0.23],[22.3,0.22],[22.7,0.25],[23.0,0.28,0.3],[23.3,0.27]];
const d_b120=[[12.05,0.95,0.85],[12.2,0.97,0.9],[12.4,0.95,0.55],[12.6,0.9,0.55],[12.8,1.0,0.5],[13.0,0.75,0.8],[13.3,0.85,0.55],[13.5,0.78,0.6],[13.8,0.8,0.5],[14.0,0.65,0.55],[14.3,0.75,0.5],[14.5,0.6,0.45],[14.8,0.55,0.7],[15.0,0.65,0.45],[15.3,0.6,0.5],[15.5,0.95,0.4],[15.7,1.0,0.55],[15.9,0.75,0.45],[16.1,1.05,0.6],[16.3,0.95,0.5],[16.5,0.8,0.4],[16.7,1.0,0.55],[16.9,0.9,0.45],[17.1,0.85,0.38],[17.3,1.05,0.5],[17.5,0.95,0.55],[17.7,0.6,0.42],[17.9,0.75,0.35],[18.1,0.55,0.6],[18.5,0.55,0.5],[18.9,0.6,0.45],[19.3,0.55],[19.7,0.5,0.45],[20.0,0.5,0.42],[20.3,0.45,0.38],[20.6,0.4],[21.0,0.38],[21.4,0.35],[21.8,0.3],[22.2,0.27],[22.6,0.27],[23.0,0.26],[23.3,0.27]];
const d_tt=[[12.1,12.1],[12.5,12.5],[12.9,12.9],[13.3,13.3],[13.7,13.7],[14.1,14.1],[14.5,14.5],[14.9,14.9],[15.3,15.3],[15.7,15.7],[16.1,16.1],[16.5,16.5],[16.9,16.9],[17.3,17.3],[17.7,17.7],[18.1,18.1],[18.5,18.5],[18.9,18.9],[19.3,19.3],[19.7,19.7],[20.1,20.1],[20.5,20.5],[20.9,20.9],[21.3,21.3],[21.7,21.7],[22.1,22.1],[22.5,22.5],[22.9,22.9],[23.3,23.3]];

const xTicks=[12,14,16,18,20,22];
const xTickLabels=['12000','14000','16000','18000','20000','22000'];
const p5=[70,80,90,100,110], l5=['70','80','90','100','110'];
const pct=[0,20,40,60,80,100], lpct=['0','20','40','60','80','100'];
const panels=[
['Open','(r=-0.12, p=2.50e-04)','Open',d_open,61.5,119.8,p5,l5,90,83.8,0.8,0.5,1.6,0,0],
['High','(r=-0.12, p=2.28e-04)','High',d_high,62.5,120.5,[70,80,90,100,110,120],['70','80','90','100','110','120'],90.8,84.3,0.8,0.5,1.6,1,0],
['Low','(r=-0.12, p=2.43e-04)','Low',d_low,61,116.5,p5,l5,89,83,0.8,0.5,1.6,2,0],
['Close_MSCI','(r=-0.12, p=2.14e-04)','Close_MSCI',d_msci,62,117,p5,l5,90,83.7,0.8,0.5,1.6,3,0],
['Adj_Close','(r=-0.08, p=1.15e-02)','Adj_Close',d_adj,64.5,111.7,p5,l5,86,82.6,0.7,0.4,1.4,4,0],
['Volume','(r=0.11, p=7.86e-04)','Volume',d_vol,-0.129,2.567,[0,0.5,1,1.5,2,2.5],['0.0','0.5','1.0','1.5','2.0','2.5'],0.26,0.38,0.02,0.01,0.05,0,1],
['MA7','(r=-0.12, p=2.68e-04)','MA7',d_ma7,63,113,p5,l5,90,84,0.8,0.5,1.5,1,1],
['MA21','(r=-0.11, p=9.08e-04)','MA21',d_ma21,64.5,111,p5,l5,90,84.5,0.8,0.5,1.5,2,1],
['MA50','(r=-0.09, p=4.95e-03)','MA50',d_ma50,67.5,107,[70,80,90,100],['70','80','90','100'],90,85.5,0.7,0.4,1.5,3,1],
['MA100','(r=-0.07, p=3.08e-02)','MA100',d_ma100,69,104.5,[70,75,80,85,90,95,100],['70','75','80','85','90','95','100'],89.7,86.7,0.6,0.35,1.3,4,1],
['Middle Band','(r=-0.11, p=8.45e-04)','Middle Band',d_mid,64,111,p5,l5,90,84.5,0.8,0.5,1.5,0,2],
['Upper Band','(r=-0.11, p=6.45e-04)','Upper Band',d_up,65.5,118.5,p5,l5,94,88,0.9,0.5,1.6,1,2],
['Lower Band','(r=-0.10, p=1.88e-03)','Lower Band',d_lowb,62,106,[70,80,90,100],['70','80','90','100'],86,81,0.8,0.4,1.5,2,2],
['Band Width','(r=-0.07, p=3.97e-02)','Band Width',d_bw,0.9,26.5,[5,10,15,20,25],['5','10','15','20','25'],8,6.5,0.4,0.2,0.8,3,2],
['Aroon Up','(r=-0.13, p=3.80e-05)','Aroon Up',d_aup,-5,105,pct,lpct,51,27,3,1.8,7,4,2],
['Aroon Down','(r=0.03, p=3.59e-01)','Aroon Down',d_adn,-5,105,pct,lpct,48,55,3.5,1.8,7,0,3],
['CCI20','(r=-0.07, p=3.18e-02)','CCI20',d_cci,-330,490,[-200,0,200,400],['\u2212200','0','200','400'],0,-40,10,6,22,1,3],
['CMO14','(r=-0.14, p=6.13e-06)','CMO14',d_cmo,-95,105,[-50,0,50,100],['\u221250','0','50','100'],5,-18,2.5,1.5,5,2,3],
['MACD Line','(r=-0.10, p=1.86e-03)','MACD Line',d_macdl,-3.4,3.8,[-3,-2,-1,0,1,2,3],['\u22123','\u22122','\u22121','0','1','2','3'],0.05,-0.55,0.1,0.06,0.18,3,3],
['Signal Line','(r=-0.10, p=1.23e-03)','Signal Line',d_sig,-2.9,3.4,[-2,-1,0,1,2,3],['\u22122','\u22121','0','1','2','3'],0.05,-0.5,0.1,0.06,0.17,4,3],
['MACD Histogram','(r=-0.01, p=6.82e-01)','MACD Histogram',d_hist,-1.45,1.6,[-1,-0.5,0,0.5,1,1.5],['\u22121.0','\u22120.5','0.0','0.5','1.0','1.5'],0.02,0.0,0.04,0.02,0.08,0,4],
['RSI7','(r=-0.13, p=7.07e-05)','RSI7',d_rsi7,5,97,[20,40,60,80],['20','40','60','80'],52,42,1.5,0.9,3,1,4],
['RSI14','(r=-0.16, p=6.95e-07)','RSI14',d_rsi14,17,88,[20,30,40,50,60,70,80],['20','30','40','50','60','70','80'],52,43.5,1,0.6,2,2,4],
['RSI21','(r=-0.18, p=2.09e-08)','RSI21',d_rsi21,22,81,[30,40,50,60,70,80],['30','40','50','60','70','80'],51,43,0.8,0.5,1.6,3,4],
['%K','(r=-0.10, p=2.59e-03)','%K',d_k,-5,105,pct,lpct,52,37,2.5,1.5,5,4,4],
['%D','(r=-0.11, p=8.47e-04)','%D',d_d,-3,103,pct,lpct,52,37,2.5,1.5,5,0,5],
['WILLR14','(r=-0.10, p=2.59e-03)','WILLR14',d_willr,-105,5,[-100,-80,-60,-40,-20,0],['\u2212100','\u221280','\u221260','\u221240','\u221220','0'],-48,-63,2.5,1.5,5,1,5],
['Market Return','(r=0.06, p=7.10e-02)','Market Return',d_mret,-0.05,0.055,[-0.04,-0.02,0,0.02,0.04],['\u22120.04','\u22120.02','0.00','0.02','0.04'],0.0,0.003,0.0008,0.0005,0.0015,2,5],
['Stock Return','(r=-0.01, p=6.45e-01)','Stock Return',d_sret,-0.068,0.078,[-0.06,-0.04,-0.02,0,0.02,0.04,0.06],['\u22120.06','\u22120.04','\u22120.02','0.00','0.02','0.04','0.06'],0.0,0.0,0.0012,0.0007,0.002,3,5],
['Beta_60','(r=-0.43, p=5.56e-44)','Beta_60',d_b60,-0.01,1.38,[0,0.2,0.4,0.6,0.8,1,1.2],['0.0','0.2','0.4','0.6','0.8','1.0','1.2'],0.85,0.28,0.02,0.01,0.035,4,5],
['Beta_120','(r=-0.43, p=6.93e-45)','Beta_120',d_b120,0.22,1.1,[0.4,0.6,0.8,1.0],['0.4','0.6','0.8','1.0'],0.82,0.37,0.012,0.007,0.022,0,6],
['Close_TAIEX_TAIEX','(r=1.00, p=0.00e+00)','Close_TAIEX_TAIEX',d_tt,11.5,23.9,[12,14,16,18,20,22],['12000','14000','16000','18000','20000','22000'],12.05,23.4,0.01,0.005,0.02,2,6]
];

const NS='http://www.w3.org/2000/svg';
const svg=document.getElementById('fig');
const colL=[73,572,1071,1570,2069], W=411, H=230;
function mk(tag,attrs,parent){const e=document.createElementNS(NS,tag);for(const k in attrs)e.setAttribute(k,attrs[k]);parent.appendChild(e);return e;}
const X0=12.05, X1=23.4;
panels.forEach((p,i)=>{
  const [name,stat,ylab,data,ylo,yhi,ticks,tlabels,f0,f1,cL,cM,cR,col,row]=p;
  const L=colL[col], T=186+331*row, B=T+H;
  const xs=v=>L+17+(v-12)*32.9;
  const ys=v=>B-(v-ylo)/(yhi-ylo)*H;
  const g=mk('g',{},svg);
  
  
  const t1=mk('text',{x:L+W/2,y:T-31,'font-size':16.5,'text-anchor':'middle'},g);
  t1.textContent=name+' vs. Close_TAIEX';
  
  
  const t2=mk('text',{x:L+W/2,y:T-9,'font-size':16.5,'text-anchor':'middle'},g);
  t2.textContent=stat;
  
  
  const cp=mk('clipPath',{id:'c'+i},g);mk('rect',{x:L,y:T,width:W,height:H},cp);
  const pg=mk('g',{'clip-path':'url(#c'+i+')'},g);
  data.forEach(r=>{for(let k=1;k<r.length;k++){
    const c=mk('circle',{cx:xs(r[0]).toFixed(1),cy:ys(r[k]).toFixed(1),r:5.6,fill:'#1f77b4',stroke:'#fff','stroke-width':0.8},pg);
    
    
  }});
  const slope=(f1-f0)/(X1-X0), fy=v=>f0+slope*(v-X0);
  const xsN=[X0,16.5,X1], hw=[cL,cM,cR];
  let up=xsN.map((v,k)=>xs(v).toFixed(1)+','+ys(fy(v)+hw[k]).toFixed(1));
  let dn=xsN.slice().reverse().map((v,k)=>xs(v).toFixed(1)+','+ys(fy(v)-hw[2-k]).toFixed(1));
  const band=mk('polygon',{points:up.concat(dn).join(' '),fill:'rgba(255,0,0,0.15)'},pg);
  
  
  const ln=mk('line',{x1:xs(X0),y1:ys(f0),x2:xs(X1),y2:ys(f1),stroke:'#ff0000','stroke-width':3.5},pg);
  
  
  const fr=mk('rect',{x:L,y:T,width:W,height:H,fill:'none',stroke:'#000','stroke-width':1.1},g);
  
  
  xTicks.forEach((v,k)=>{const x=xs(v);
    mk('line',{x1:x,y1:B,x2:x,y2:B+5,stroke:'#000','stroke-width':1},g);
    const tt=mk('text',{x:x,y:B+21,'font-size':13.5,'text-anchor':'middle'},g);tt.textContent=xTickLabels[k];
    
    
  });
  const xl=mk('text',{x:L+W/2,y:B+41,'font-size':13.5,'text-anchor':'middle'},g);xl.textContent='TAIEX';
  
  
  let maxw=0;
  ticks.forEach((v,k)=>{const y=ys(v);
    mk('line',{x1:L-5,y1:y,x2:L,y2:y,stroke:'#000','stroke-width':1},g);
    const tt=mk('text',{x:L-8,y:y+5,'font-size':13.5,'text-anchor':'end'},g);tt.textContent=tlabels[k];
    
    
    maxw=Math.max(maxw,tlabels[k].length*8.5);
  });
  const yx=L-8-maxw-10;
  const yl=mk('text',{x:yx,y:T+H/2,'font-size':13.5,'text-anchor':'middle',transform:'rotate(-90 '+yx+' '+(T+H/2)+')'},g);yl.textContent=ylab;
  
  
  if(name==='Volume'){const o=mk('text',{x:L,y:T-6,'font-size':13.5},g);o.textContent='1e7';
    
    }
});
</script>
</body></html>
